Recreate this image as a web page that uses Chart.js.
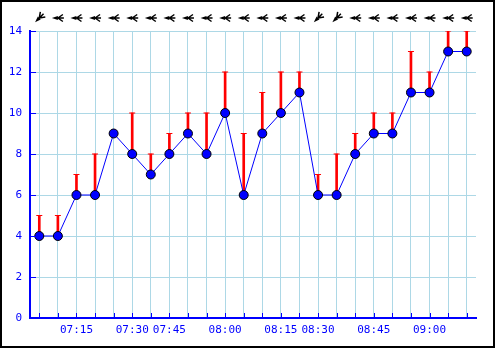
<!DOCTYPE html>
<html>
<head>
<meta charset="utf-8">
<script src="https://cdn.jsdelivr.net/npm/chart.js@4/dist/chart.umd.min.js"></script>
<style>
  html, body { margin: 0; padding: 0; background: #fff; }
  #wrap { width: 495px; height: 348px; }
</style>
</head>
<body>
<div id="wrap"><canvas id="chart" width="495" height="348"></canvas></div>
<script>
// time labels (only some stamps are labelled on the axis)
const timeLabels = ['', '', '07:15', '', '', '07:30', '', '07:45', '', '', '08:00', '',
                    '', '08:15', '', '08:30', '', '', '08:45', '', '', '09:00', '', ''];
// average wind speed
const avgSpeed = [4, 4, 6, 6, 9, 8, 7, 8, 9, 8, 10, 6, 9, 10, 11, 6, 6, 8, 9, 9, 11, 11, 13, 13];
// gusts
const gustSpeed = [5, 5, 7, 8, 9, 10, 8, 9, 10, 10, 12, 9, 11, 12, 12, 7, 8, 9, 10, 10, 13, 12, 14, 14];
// wind direction (degrees, where the wind comes from)
const windDir = [45, 90, 90, 90, 90, 90, 90, 90, 90, 90, 90, 90,
                 90, 90, 90, 45, 45, 90, 90, 90, 90, 90, 90, 90];
const yTicks = [0, 2, 4, 6, 8, 10, 12, 14];

const BLUE = '#0000ff';
const GRID = '#add8e6';
const FONT = { family: 'DejaVu Sans Mono', size: 11 };

// gust bars as floating bars, caps as line-style points
const gustBars = avgSpeed.map((v, i) => gustSpeed[i] > v ? [v, gustSpeed[i]] : null);
const gustCaps = avgSpeed.map((v, i) => gustSpeed[i] > v ? gustSpeed[i] : null);

const framePlugin = {
  id: 'frame',
  afterDraw(chart) {
    const ctx = chart.ctx;
    const x = chart.scales.x, y = chart.scales.y;
    const area = chart.chartArea;
    ctx.save();
    // inward ticks on the axes
    ctx.strokeStyle = BLUE;
    ctx.lineWidth = 1;
    ctx.beginPath();
    for (let i = 0; i < avgSpeed.length; i++) {
      const px = Math.round(x.getPixelForValue(i)) + 0.5;
      ctx.moveTo(px, area.bottom);
      ctx.lineTo(px, area.bottom - 5);
    }
    yTicks.forEach(t => {
      const py = Math.round(y.getPixelForValue(t)) + 0.5;
      ctx.moveTo(area.left, py);
      ctx.lineTo(area.left + 6, py);
    });
    ctx.stroke();

    // wind arrows along the top, pointing where the wind goes
    ctx.fillStyle = '#000';
    ctx.strokeStyle = '#000';
    windDir.forEach((d, i) => {
      const px = x.getPixelForValue(i);
      ctx.save();
      ctx.translate(px, 18);
      ctx.rotate((d - 90) * Math.PI / 180);
      ctx.beginPath();
      ctx.moveTo(-6, 0);
      ctx.lineTo(0, -2);
      ctx.lineTo(0, 2);
      ctx.closePath();
      ctx.fill();
      ctx.lineWidth = 1.5;
      ctx.beginPath();
      ctx.moveTo(-2, 0);
      ctx.lineTo(6, 0);
      ctx.moveTo(0, 0);
      ctx.lineTo(5, -3.5);
      ctx.moveTo(0, 0);
      ctx.lineTo(5, 3.5);
      ctx.stroke();
      ctx.restore();
    });

    // outer frame
    ctx.strokeStyle = '#000';
    ctx.lineWidth = 2;
    ctx.strokeRect(1, 1, chart.width - 2, chart.height - 2);
    ctx.restore();
  }
};

new Chart(document.getElementById('chart'), {
  data: {
    labels: timeLabels,
    datasets: [
      {
        type: 'line',
        data: avgSpeed,
        borderColor: BLUE,
        borderWidth: 1,
        backgroundColor: BLUE,
        pointBackgroundColor: BLUE,
        pointBorderColor: '#000',
        pointBorderWidth: 1,
        pointRadius: 4.5,
        tension: 0,
        order: 0
      },
      {
        type: 'line',
        data: gustCaps,
        showLine: false,
        pointStyle: 'line',
        pointRadius: 3,
        pointBorderColor: '#ff0000',
        pointBorderWidth: 1,
        order: 1
      },
      {
        type: 'bar',
        data: gustBars,
        backgroundColor: '#ff0000',
        barThickness: 2,
        borderWidth: 0,
        order: 2
      }
    ]
  },
  options: {
    responsive: false,
    animation: false,
    layout: { padding: { top: 31, right: 19, left: 0, bottom: 0 } },
    plugins: { legend: { display: false }, tooltip: { enabled: false } },
    scales: {
      x: {
        type: 'category',
        offset: true,
        grid: { color: GRID, lineWidth: 1, drawTicks: false, offset: false },
        border: { color: BLUE, width: 2 },
        ticks: {
          color: BLUE, font: FONT, padding: 6,
          autoSkip: false, maxRotation: 0, minRotation: 0
        },
        afterFit(scale) { scale.height = 30; }
      },
      y: {
        min: 0,
        max: 14,
        grid: { color: GRID, lineWidth: 1, drawTicks: false },
        border: { color: BLUE, width: 2 },
        ticks: { color: BLUE, font: FONT, stepSize: 2, padding: 8 },
        afterFit(scale) { scale.width = 30; }
      }
    }
  },
  plugins: [framePlugin]
});
</script>
</body>
</html>
